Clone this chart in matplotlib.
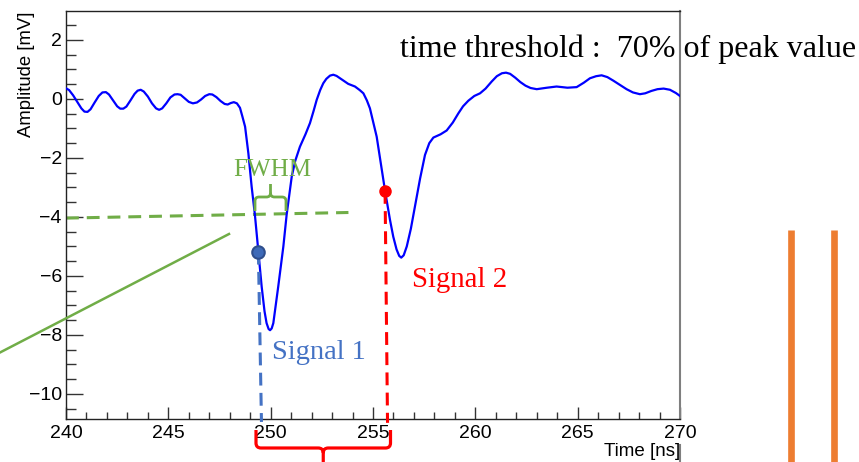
import numpy as np
import matplotlib
matplotlib.use("Agg")
import matplotlib.pyplot as plt
from matplotlib.path import Path
from matplotlib.patches import PathPatch
from matplotlib.lines import Line2D
from matplotlib.transforms import Affine2D

# ---------------- data ----------------
time_ns = [240.0, 240.15, 240.35, 240.55, 240.75, 240.9, 241.05, 241.2, 241.4, 241.6,
           241.78, 241.95, 242.1, 242.3, 242.5, 242.65, 242.8, 242.95, 243.15, 243.35,
           243.5, 243.65, 243.8, 244.0, 244.2, 244.4, 244.55, 244.7, 244.9, 245.1,
           245.3, 245.45, 245.6, 245.8, 246.0, 246.2, 246.4, 246.6, 246.8, 247.0,
           247.15, 247.35, 247.55, 247.75, 247.9, 248.05, 248.2, 248.35, 248.5, 248.62,
           248.75, 248.91, 249.07, 249.23, 249.4, 249.56, 249.7, 249.8, 249.9, 249.97,
           250.05, 250.13, 250.37, 250.62, 250.78, 251.03, 251.2, 251.43, 251.7, 251.92,
           252.1, 252.25, 252.42, 252.57, 252.72, 252.9, 253.06, 253.22, 253.39, 253.6,
           253.79, 254.12, 254.35, 254.53, 254.7, 254.85, 255.0, 255.18, 255.43, 255.59,
           255.83, 255.99, 256.15, 256.28, 256.38, 256.5, 256.65, 256.85, 257.05, 257.3,
           257.54, 257.75, 257.95, 258.3, 258.6, 258.9, 259.17, 259.4, 259.66, 259.95,
           260.23, 260.5, 260.8, 261.05, 261.3, 261.5, 261.7, 261.95, 262.2, 262.45,
           262.7, 263.0, 263.5, 263.97, 264.5, 264.95, 265.3, 265.6, 265.9, 266.17,
           266.45, 266.74, 267.05, 267.39, 267.7, 268.04, 268.3, 268.6, 268.9, 269.2,
           269.51, 269.8, 270.0]
amplitude_mV = [0.36, 0.3, 0.12, -0.1, -0.32, -0.43, -0.44, -0.35, -0.12, 0.1,
                0.22, 0.23, 0.15, -0.05, -0.25, -0.33, -0.33, -0.26, -0.05, 0.17,
                0.28, 0.31, 0.25, 0.08, -0.15, -0.32, -0.37, -0.32, -0.15, 0.05,
                0.15, 0.16, 0.14, 0.02, -0.1, -0.15, -0.12, -0.02, 0.1, 0.16,
                0.15, 0.06, -0.07, -0.17, -0.19, -0.14, -0.11, -0.15, -0.3, -0.6,
                -0.94, -1.84, -2.97, -3.93, -5.18, -6.36, -7.2, -7.6, -7.8, -7.84,
                -7.78, -7.6, -6.36, -5.0, -3.93, -2.63, -2.1, -1.62, -1.2, -0.82,
                -0.4, -0.03, 0.3, 0.53, 0.68, 0.79, 0.82, 0.78, 0.7, 0.6,
                0.51, 0.42, 0.3, 0.19, -0.05, -0.32, -0.75, -1.28, -2.41, -3.12,
                -4.1, -4.67, -5.1, -5.32, -5.38, -5.3, -5.0, -4.4, -3.65, -2.7,
                -1.9, -1.5, -1.31, -1.2, -1.07, -0.8, -0.49, -0.25, -0.06, 0.1,
                0.19, 0.35, 0.59, 0.77, 0.87, 0.89, 0.85, 0.72, 0.57, 0.45,
                0.37, 0.33, 0.38, 0.42, 0.38, 0.4, 0.55, 0.7, 0.77, 0.8,
                0.74, 0.62, 0.48, 0.33, 0.22, 0.16, 0.19, 0.27, 0.33, 0.35,
                0.31, 0.2, 0.1]

# threshold crossing points (time, amplitude)
signal1_point = (249.4, -5.18)
signal2_point = (255.59, -3.12)
signal1_drop_end = (249.55, -10.95)
signal2_drop_end = (255.71, -10.98)
# FWHM level line (start, end)
fwhm_line_t = [240.0, 253.8]
fwhm_line_v = [-4.04, -3.85]

x_ticks = [240, 245, 250, 255, 260, 265, 270]
y_ticks = [-10, -8, -6, -4, -2, 0, 2]

title_text = "time threshold :  70% of peak value"

# ---------------- figure ----------------
W, H = 859, 462
fig = plt.figure(figsize=(W / 100, H / 100), dpi=100)
ax = fig.add_axes([66 / W, 1 - 419 / H, (680 - 66) / W, (419 - 11.3) / H])

# pixel transform (y down) for decorations
pix = Affine2D().scale(1 / W, -1 / H).translate(0, 1) + fig.transFigure

ax.plot(time_ns, amplitude_mV, color="#0000FF", lw=1.6, zorder=3)
ax.set_xlim(240, 270)
ax.set_ylim(-10.85, 2.97)

ax.set_xticks(x_ticks)
ax.set_yticks(y_ticks)
ax.set_xticks(np.arange(240, 271, 1), minor=True)
ax.set_yticks(np.arange(-10.5, 3.0, 0.5), minor=True)
sans = "Liberation Sans"
for lab in ax.get_xticklabels() + ax.get_yticklabels():
    lab.set_fontfamily(sans)
ax.tick_params(axis="both", which="both", direction="in", colors="#333333",
               labelcolor="black", labelsize=14)
ax.tick_params(axis="x", which="major", length=8.6, width=1, pad=4)
ax.tick_params(axis="x", which="minor", length=5, width=1)
ax.tick_params(axis="y", which="major", length=12, width=1, pad=3)
ax.tick_params(axis="y", which="minor", length=7.2, width=1)

for s in ["left", "bottom", "top"]:
    ax.spines[s].set_color("#222222")
    ax.spines[s].set_linewidth(1.0)
ax.spines["right"].set_color("#7f7f7f")
ax.spines["right"].set_linewidth(1.5)

ax.set_xlabel("Time [ns]", fontfamily=sans, fontsize=13.5, loc="right")
ax.xaxis.set_label_coords(1.0, -(442.5 - 419) / 407.7)
ax.set_ylabel("Amplitude [mV]", fontfamily=sans, fontsize=13.3, loc="top")
ax.yaxis.set_label_coords(-0.05, 1.0)

# FWHM dashed level
ax.plot(fwhm_line_t, fwhm_line_v, color="#70AD47", lw=2.2, ls=(0, (4.2, 2.6)),
        zorder=2, clip_on=False)

# dashed drop lines
ax.plot([signal1_point[0], signal1_drop_end[0]], [signal1_point[1], signal1_drop_end[1]],
        color="#4472C4", lw=2.2, ls=(0, (4.2, 2.4)), clip_on=False, zorder=4)
ax.plot([signal2_point[0], signal2_drop_end[0]], [signal2_point[1], signal2_drop_end[1]],
        color="#FF0000", lw=2.2, ls=(0, (4.2, 2.4)), clip_on=False, zorder=4)

# points
ax.plot(*signal1_point, "o", ms=9, mfc="#3E6AB8", mec="#2F4E8C", mew=1.5, zorder=5,
        clip_on=False)
ax.plot(*signal2_point, "o", ms=8, mfc="#FF0000", mec="#FF0000", zorder=5, clip_on=False)

serif = "Liberation Serif"
fig.text(400 / W, 1 - 57 / H, title_text, fontfamily=serif, fontsize=23,
         color="black", va="baseline", ha="left")
fig.text(233 / W, 1 - 176 / H, "FWHM", fontfamily=serif, fontsize=18,
         color="#70AD47", va="baseline", ha="left")
fig.text(272 / W, 1 - 359 / H, "Signal 1", fontfamily=serif, fontsize=20.5,
         color="#4472C4", va="baseline", ha="left")
fig.text(412 / W, 1 - 287 / H, "Signal 2", fontfamily=serif, fontsize=20.8,
         color="#FF0000", va="baseline", ha="left")


def brace(x0, x1, ytip, yh, yc, r, color, lw):
    xm = (x0 + x1) / 2
    sl = np.sign(yh - ytip)
    sc = np.sign(yc - yh)
    verts = [(x0, ytip), (x0, yh - sl * r), (x0, yh), (x0 + r, yh),
             (xm - r, yh), (xm, yh), (xm, yh + sc * r), (xm, yc),
             (xm, yh + sc * r), (xm, yh), (xm + r, yh),
             (x1 - r, yh), (x1, yh), (x1, yh - sl * r), (x1, ytip)]
    codes = [Path.MOVETO, Path.LINETO, Path.CURVE3, Path.CURVE3,
             Path.LINETO, Path.CURVE3, Path.CURVE3, Path.LINETO,
             Path.MOVETO, Path.CURVE3, Path.CURVE3,
             Path.LINETO, Path.CURVE3, Path.CURVE3, Path.LINETO]
    p = PathPatch(Path(verts, codes), transform=pix, fill=False, edgecolor=color,
                  lw=lw, capstyle="butt", joinstyle="round")
    p.set_clip_on(False)
    fig.add_artist(p)


brace(255, 286, 211, 197, 184, 4, "#70AD47", 2.0)
brace(256, 390.5, 430, 448, 463, 5, "#FF0000", 2.3)

# decorative lines in figure pixel space
fig.add_artist(Line2D([0, 229], [352.5, 234], transform=pix, color="#70AD47", lw=1.8))
fig.add_artist(Line2D([791, 791], [230, 463], transform=pix, color="#ED7D31", lw=4.8,
                      solid_capstyle="butt"))
fig.add_artist(Line2D([834, 834], [230, 463], transform=pix, color="#ED7D31", lw=4.8,
                      solid_capstyle="butt"))
fig.add_artist(Line2D([680, 680], [445, 462], transform=pix, color="#7f7f7f", lw=1.5))

fig.savefig("out.png", dpi=100)
